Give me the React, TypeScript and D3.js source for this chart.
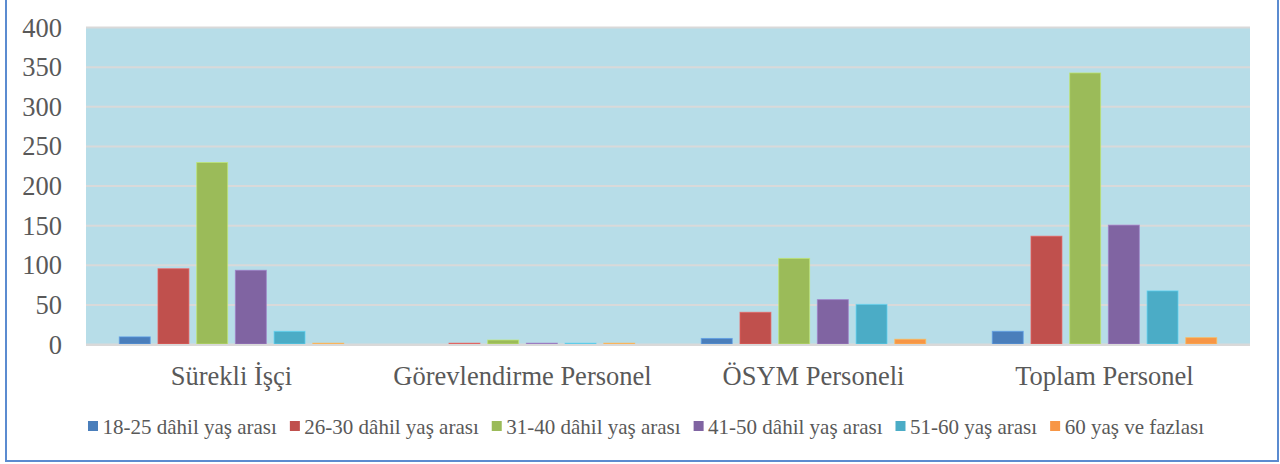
import React, { useEffect, useRef } from 'react';
import * as d3 from 'd3';

const categories = ['Sürekli İşçi', 'Görevlendirme Personel', 'ÖSYM Personeli', 'Toplam Personel'];
const seriesNames = [
  '18-25 dâhil yaş arası',
  '26-30 dâhil yaş arası',
  '31-40 dâhil yaş arası',
  '41-50 dâhil yaş arası',
  '51-60 yaş arası',
  '60 yaş ve fazlası',
];
const seriesColors = ['#4a7ebb', '#c0504d', '#9bbb59', '#8064a2', '#4bacc6', '#f79646'];

// one array per category, in series order
const surekliIsci = [9, 95, 229, 93, 16, 1];
const gorevlendirme = [0, 1, 5, 1, 1, 1];
const osymPersoneli = [7, 40, 108, 56, 50, 6];
const toplamPersonel = [16, 136, 342, 150, 67, 8];
const yTicks = [0, 50, 100, 150, 200, 250, 300, 350, 400];

const W = 1280;
const H = 464;

const App: React.FC = () => {
  const svgRef = useRef<SVGSVGElement | null>(null);

  useEffect(() => {
    if (!svgRef.current) return;
    const svg = d3.select(svgRef.current);
    svg.selectAll('*').remove();

    const values = [surekliIsci, gorevlendirme, osymPersoneli, toplamPersonel];
    const font = "'Liberation Serif', 'Times New Roman', 'DejaVu Serif', serif";
    const textColor = '#595959';

    const plot = { left: 86, right: 1250, top: 27.5, bottom: 344.5 };

    const x0 = d3.scaleBand().domain(categories).range([plot.left, plot.right]).padding(0);
    const x1 = d3
      .scaleBand()
      .domain(seriesNames)
      .range([0, x0.bandwidth()])
      .paddingInner(0.2)
      .paddingOuter(0.86);
    const y = d3.scaleLinear().domain([0, 400]).range([plot.bottom, plot.top]);

    // outer frame
    svg.append('rect')
      .attr('x', 6)
      .attr('y', -4)
      .attr('width', 1272)
      .attr('height', 465)
      .attr('fill', 'white')
      .attr('stroke', '#5b8bd0')
      .attr('stroke-width', 2);

    // plot background
    svg.append('rect')
      .attr('x', plot.left)
      .attr('y', plot.top)
      .attr('width', plot.right - plot.left)
      .attr('height', plot.bottom - plot.top)
      .attr('fill', '#b7dde8');

    // gridlines
    svg.append('g')
      .selectAll('line')
      .data(yTicks)
      .enter()
      .append('line')
      .attr('x1', plot.left)
      .attr('x2', plot.right)
      .attr('y1', d => y(d))
      .attr('y2', d => y(d))
      .attr('stroke', '#d9d9d9')
      .attr('stroke-width', 2);

    // y tick labels
    svg.append('g')
      .selectAll('text')
      .data(yTicks)
      .enter()
      .append('text')
      .attr('x', 62)
      .attr('y', d => y(d))
      .attr('dy', '0.34em')
      .attr('text-anchor', 'end')
      .style('font-family', font)
      .style('font-size', '26.5px')
      .attr('fill', textColor)
      .text(d => d);

    // bars
    const groups = svg.append('g')
      .selectAll('g')
      .data(categories)
      .enter()
      .append('g')
      .attr('transform', d => `translate(${x0(d)},0)`);

    groups.selectAll('rect')
      .data((_, i) => values[i].map((v, j) => ({ key: seriesNames[j], value: v, color: seriesColors[j] })))
      .enter()
      .append('rect')
      .attr('x', d => x1(d.key)!)
      .attr('y', d => y(d.value) - (d.value > 0 ? 0.5 : 0))
      .attr('width', x1.bandwidth())
      .attr('height', d => Math.max(0, y(0) - y(d.value)))
      .attr('fill', d => d.color)
      .attr('stroke', d => d3.color(d.color)!.brighter(0.6).toString())
      .attr('stroke-opacity', d => (d.value > 0 ? 0.7 : 0))
      .attr('stroke-width', 1);

    // baseline
    svg.append('line')
      .attr('x1', plot.left)
      .attr('x2', plot.right)
      .attr('y1', y(0) + 0.5)
      .attr('y2', y(0) + 0.5)
      .attr('stroke', '#d9d9d9')
      .attr('stroke-width', 2);

    // category labels
    svg.append('g')
      .selectAll('text')
      .data(categories)
      .enter()
      .append('text')
      .attr('x', d => x0(d)! + x0.bandwidth() / 2)
      .attr('y', 385)
      .attr('text-anchor', 'middle')
      .style('font-family', font)
      .style('font-size', '26.5px')
      .attr('fill', textColor)
      .text(d => d);

    // legend
    const legend = svg.append('g');
    const items = legend
      .selectAll('g')
      .data(seriesNames)
      .enter()
      .append('g');
    items.append('rect')
      .attr('x', 0)
      .attr('y', 421)
      .attr('width', 10)
      .attr('height', 10)
      .attr('fill', (_, i) => seriesColors[i]);
    items.append('text')
      .attr('x', 14.5)
      .attr('y', 434)
      .style('font-family', font)
      .style('font-size', '21px')
      .attr('fill', textColor)
      .text(d => d);

    const widths: number[] = [];
    items.each(function () {
      const t = d3.select(this).select<SVGTextElement>('text').node()!;
      widths.push(14.5 + t.getComputedTextLength());
    });
    const gap = 13;
    const total = d3.sum(widths) + gap * (widths.length - 1);
    let cx = 646 - total / 2;
    items.attr('transform', (_, i) => {
      const tx = cx;
      cx += widths[i] + gap;
      return `translate(${tx},0)`;
    });
  }, []);

  return (
    <svg
      ref={svgRef}
      width={W}
      height={H}
      viewBox={`0 0 ${W} ${H}`}
      style={{ position: 'absolute', left: 0, top: 0, background: 'white' }}
    />
  );
};

export default App;
